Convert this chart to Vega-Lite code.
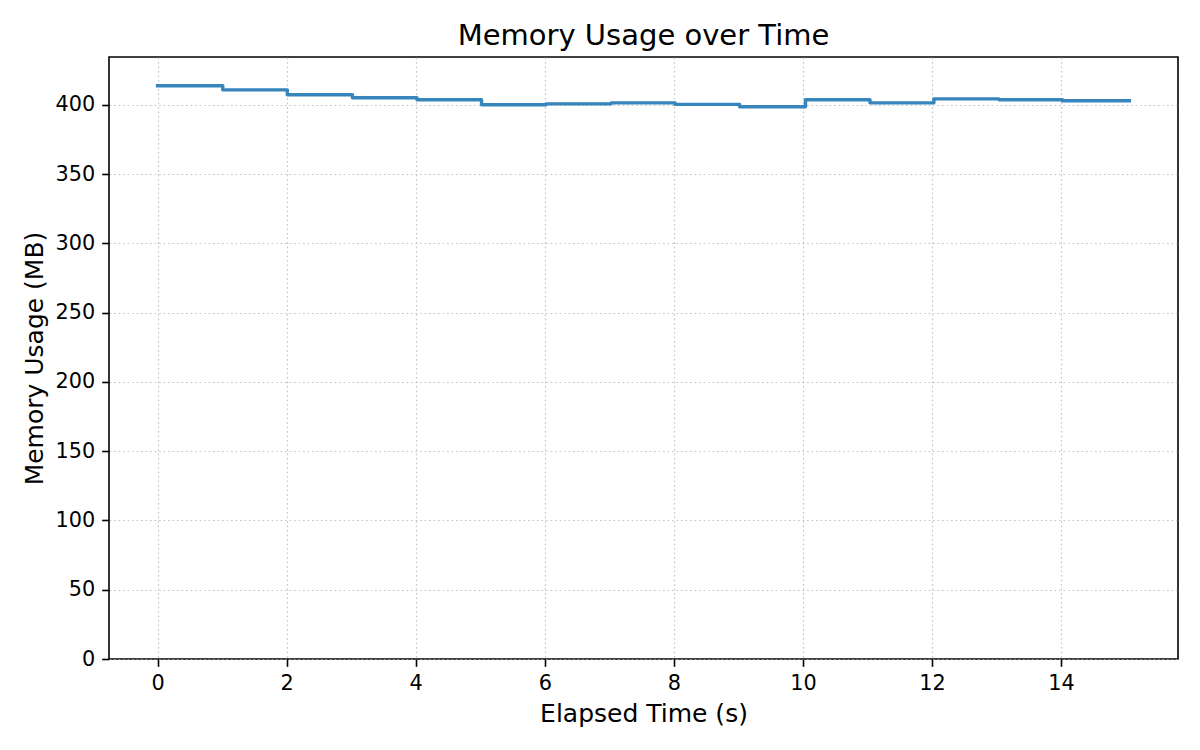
{
  "$schema": "https://vega.github.io/schema/vega-lite/v6.json",
  "autosize": "none",
  "width": 1069,
  "height": 602,
  "padding": {"left": 109, "top": 57, "right": 22, "bottom": 91},
  "background": "white",
  "config": {
    "font": "DejaVu Sans",
    "view": {"stroke": "#000000", "strokeWidth": 1.6},
    "axis": {
      "domain": false,
      "ticks": true,
      "tickColor": "#000000",
      "tickWidth": 1.6,
      "tickSize": 7.3,
      "labelFont": "DejaVu Sans",
      "labelFontSize": 20.8,
      "labelColor": "#000000",
      "labelPadding": 7,
      "titleFont": "DejaVu Sans",
      "titleFontSize": 25,
      "titleFontWeight": "normal",
      "titleColor": "#000000",
      "titlePadding": 8,
      "grid": true,
      "gridColor": "#b0b0b0",
      "gridOpacity": 0.7,
      "gridWidth": 1.2,
      "gridDash": [1.7, 2.8]
    }
  },
  "title": {
    "text": "Memory Usage over Time",
    "font": "DejaVu Sans",
    "fontSize": 29,
    "fontWeight": "normal",
    "color": "#000000",
    "anchor": "middle",
    "baseline": "alphabetic",
    "offset": 15,
    "dy": 32
  },
  "data": {
    "values": [
      {"t": 0.0, "mem": 413.7},
      {"t": 1.01, "mem": 410.8},
      {"t": 2.01, "mem": 407.2},
      {"t": 3.02, "mem": 405.1},
      {"t": 4.02, "mem": 403.6},
      {"t": 5.02, "mem": 400.0},
      {"t": 6.02, "mem": 400.7},
      {"t": 7.03, "mem": 401.4},
      {"t": 8.02, "mem": 400.3},
      {"t": 9.02, "mem": 398.6},
      {"t": 10.04, "mem": 403.6},
      {"t": 11.04, "mem": 401.4},
      {"t": 12.03, "mem": 404.3},
      {"t": 13.04, "mem": 403.6},
      {"t": 14.02, "mem": 402.9},
      {"t": 15.06, "mem": 402.9}
    ]
  },
  "mark": {
    "type": "line",
    "interpolate": "step-after",
    "color": "#3685bc",
    "strokeWidth": 3.4,
    "strokeCap": "square",
    "strokeJoin": "round"
  },
  "encoding": {
    "x": {
      "field": "t",
      "type": "quantitative",
      "title": "Elapsed Time (s)",
      "scale": {"domain": [-0.753, 15.813], "nice": false, "zero": false},
      "axis": {"values": [0, 2, 4, 6, 8, 10, 12, 14], "format": "d"}
    },
    "y": {
      "field": "mem",
      "type": "quantitative",
      "title": "Memory Usage (MB)",
      "scale": {"domain": [0, 434.5], "nice": false},
      "axis": {"values": [0, 50, 100, 150, 200, 250, 300, 350, 400], "format": "d"}
    }
  }
}
